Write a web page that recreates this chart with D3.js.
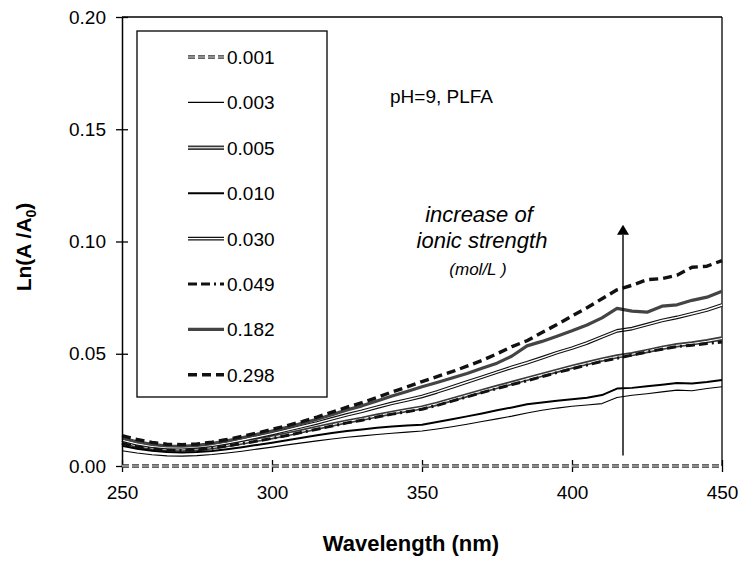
<!DOCTYPE html>
<html><head><meta charset="utf-8">
<script src="https://cdn.jsdelivr.net/npm/d3@7"></script>
<style>body{margin:0;background:#fff}svg{display:block}text{font-family:"Liberation Sans",Arial,sans-serif}</style>
</head><body><svg id="c" width="740" height="561"></svg>
<script>
const wavelengths = [250,255,260,265,270,275,280,285,290,295,300,305,310,315,320,325,330,335,340,345,350,355,360,365,370,375,380,385,390,395,400,405,410,415,420,425,430,435,440,445,450];
const seriesNames = ["0.001","0.003","0.005","0.010","0.030","0.049","0.182","0.298"];
const s001 = wavelengths.map(()=>0);
const s003 = [.0068,.0058,.0050,.0045,.0044,.0046,.0051,.0058,.0066,.0075,.0084,.0094,.0103,.0112,.0120,.0128,.0134,.0140,.0146,.0151,.0156,.0165,.0175,.0186,.0198,.0210,.0222,.0236,.0248,.0258,.0266,.0272,.0278,.0305,.0315,.0322,.0330,.0338,.0335,.0345,.0353];
const s005 = [.0105,.0090,.0080,.0074,.0073,.0076,.0083,.0093,.0104,.0116,.0128,.0141,.0155,.0170,.0184,.0198,.0210,.0224,.0237,.0249,.0260,.0277,.0296,.0315,.0334,.0352,.0370,.0388,.0406,.0424,.0442,.0458,.0474,.0488,.0498,.0512,.0526,.0538,.0546,.0556,.0568];
const s010 = [.0090,.0077,.0068,.0062,.0060,.0062,.0067,.0075,.0084,.0094,.0104,.0115,.0126,.0137,.0147,.0156,.0163,.0170,.0176,.0180,.0184,.0196,.0208,.0221,.0234,.0248,.0261,.0275,.0283,.0291,.0297,.0304,.0316,.0345,.0348,.0355,.0362,.0370,.0368,.0374,.0383];
const s030 = [.0115,.0099,.0088,.0082,.0081,.0085,.0092,.0103,.0116,.0130,.0144,.0160,.0176,.0192,.0210,.0228,.0244,.0262,.0279,.0294,.0310,.0330,.0352,.0374,.0396,.0418,.0440,.0460,.0482,.0505,.0525,.0548,.0575,.0602,.0612,.0630,.0648,.0662,.0678,.0695,.0717];
const s049 = [.0100,.0086,.0076,.0070,.0069,.0072,.0079,.0089,.0100,.0111,.0123,.0136,.0150,.0164,.0178,.0192,.0204,.0218,.0231,.0242,.0253,.0270,.0289,.0308,.0327,.0345,.0363,.0380,.0398,.0416,.0433,.0450,.0466,.0480,.0494,.0508,.0520,.0532,.0538,.0546,.0552];
const s182 = [.0125,.0108,.0096,.0089,.0088,.0092,.0100,.0112,.0126,.0141,.0156,.0172,.0190,.0208,.0228,.0250,.0268,.0290,.0312,.0332,.0353,.0372,.0392,.0412,.0435,.0458,.0490,.0535,.0555,.0578,.0602,.0628,.0660,.0702,.0690,.0685,.0712,.0718,.0738,.0752,.0778];
const s298 = [.0135,.0118,.0105,.0097,.0095,.0098,.0106,.0118,.0132,.0147,.0163,.0180,.0198,.0218,.0240,.0262,.0282,.0305,.0330,.0352,.0376,.0398,.0420,.0445,.0470,.0500,.0532,.0558,.0595,.0630,.0668,.0705,.0745,.0785,.0805,.0830,.0835,.0850,.0885,.0890,.0915];
const seriesValues = [s001,s003,s005,s010,s030,s049,s182,s298];
const xTicks = [250,300,350,400,450];
const yTicks = [0,0.05,0.10,0.15,0.20];

const styles = {
 "0.001":[{c:"#333",w:3.4,d:"7,3"},{c:"#fff",w:0.9,d:"7,3"}],
 "0.003":[{c:"#000",w:1.1}],
 "0.005":[{c:"#3a3a3a",w:4.4},{c:"#fff",w:1.1}],
 "0.010":[{c:"#000",w:2}],
 "0.030":[{c:"#111",w:3.6},{c:"#fff",w:1.4}],
 "0.049":[{c:"#111",w:3,d:"9,4,9,4,2,4"}],
 "0.182":[{c:"#444",w:3.2}],
 "0.298":[{c:"#111",w:3.4,d:"9,5"}]
};

const svg = d3.select("#c");
const L=122,R=722,T=17,B=466;
const x = d3.scaleLinear().domain([250,450]).range([L,R]);
const y = d3.scaleLinear().domain([0,0.2]).range([B,T]);
const line = d3.line().x((d,i)=>x(wavelengths[i])).y(d=>y(d));

svg.append("line").attr("x1",L).attr("x2",R).attr("y1",T).attr("y2",T).attr("stroke","#000").attr("stroke-width",1.3);
svg.append("line").attr("x1",R).attr("x2",R).attr("y1",T).attr("y2",B).attr("stroke","#000").attr("stroke-width",1.3);

const order = [1,2,3,4,5,6,7];
order.forEach(k=>{
  const name = seriesNames[k];
  styles[name].forEach(s=>{
    svg.append("path").attr("d",line(seriesValues[k])).attr("fill","none")
      .attr("stroke",s.c).attr("stroke-width",s.w).attr("stroke-dasharray",s.d||null)
      .attr("stroke-linejoin","round");
  });
});

const yAxis = d3.axisLeft(y).tickValues(yTicks).tickFormat(d3.format(".2f")).tickSize(0).tickPadding(16);
const gy = svg.append("g").attr("transform",`translate(${L},0)`).call(yAxis);
gy.select(".domain").attr("stroke","#000").attr("stroke-width",1.5);
gy.selectAll(".tick text").attr("font-size",19).attr("fill","#000").attr("font-family","Liberation Sans, Arial, sans-serif");
gy.selectAll(".tick").append("line").attr("x1",-6).attr("x2",6).attr("stroke","#000").attr("stroke-width",1.3);

const xAxis = d3.axisBottom(x).tickValues(xTicks).tickFormat(d3.format("d")).tickSize(0).tickPadding(20);
const gx = svg.append("g").attr("transform",`translate(0,${B})`).call(xAxis);
gx.select(".domain").attr("stroke","none");
gx.selectAll(".tick text").attr("font-size",19).attr("fill","#000").attr("font-family","Liberation Sans, Arial, sans-serif");
gx.selectAll(".tick").append("line").attr("y1",-6).attr("y2",6).attr("stroke","#000").attr("stroke-width",1.3);
styles["0.001"].forEach(s=>{
  svg.append("path").attr("d",line(s001)).attr("fill","none").attr("stroke",s.c).attr("stroke-width",s.w).attr("stroke-dasharray",s.d);
});

svg.append("text").attr("x",411).attr("y",551).attr("text-anchor","middle").attr("font-size",22).attr("font-weight","bold").text("Wavelength (nm)");
const yt = svg.append("text").attr("transform","translate(31,247) rotate(-90)").attr("text-anchor","middle").attr("font-size",21).attr("font-weight","bold");
yt.append("tspan").text("Ln(A /A");
yt.append("tspan").attr("font-size",14).attr("dy",5).text("0");
yt.append("tspan").attr("dy",-5).text(")");

svg.append("rect").attr("x",137).attr("y",31).attr("width",190).attr("height",366).attr("fill","#fff").attr("stroke","#000").attr("stroke-width",1.3);
seriesNames.forEach((name,i)=>{
  const ly = 57 + i*45.4;
  styles[name].forEach(s=>{
    svg.append("line").attr("x1",188).attr("x2",224).attr("y1",ly).attr("y2",ly)
      .attr("stroke",s.c).attr("stroke-width",s.w).attr("stroke-dasharray",s.d||null);
  });
  svg.append("text").attr("x",227).attr("y",ly+7).attr("font-size",19).text(name);
});

svg.append("text").attr("x",390).attr("y",103).attr("font-size",19).text("pH=9, PLFA");
svg.append("text").attr("x",479).attr("y",222).attr("text-anchor","middle").attr("font-size",22).attr("font-style","italic").text("increase of");
svg.append("text").attr("x",482).attr("y",248).attr("text-anchor","middle").attr("font-size",22).attr("font-style","italic").text("ionic strength");
svg.append("text").attr("x",478).attr("y",275).attr("text-anchor","middle").attr("font-size",17).attr("font-style","italic").text("(mol/L )");

svg.append("line").attr("x1",x(417)).attr("x2",x(417)).attr("y1",y(0.0047)).attr("y2",y(0.103)).attr("stroke","#000").attr("stroke-width",1.4);
svg.append("path").attr("d",`M${x(417)-6},${y(0.103)} L${x(417)+6},${y(0.103)} L${x(417)},${y(0.1075)} Z`).attr("fill","#000");
</script></body></html>
